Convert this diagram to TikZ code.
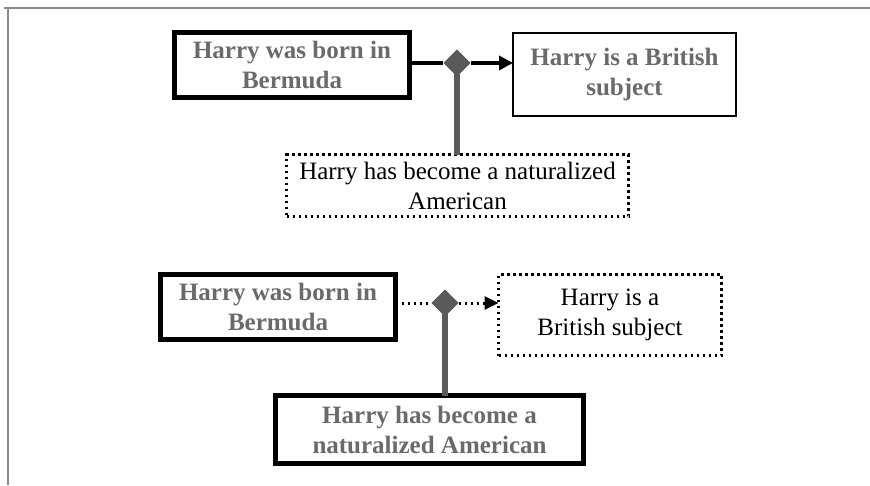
\documentclass[tikz,border=0pt]{standalone}
\usepackage{fontspec}
\setmainfont{Liberation Serif}
\usetikzlibrary{shapes.geometric,arrows.meta}
\definecolor{txtgray}{HTML}{6A6A6A}
\definecolor{linkgray}{HTML}{5A5A5A}
\definecolor{framegray}{HTML}{8A8A8A}
\tikzset{
  claim/.style={draw=black, rectangle, align=center, inner sep=0pt, outer sep=0pt,
    font=\fontsize{25}{30}\selectfont},
  heavybox/.style={claim, line width=5pt, text=txtgray, font=\fontsize{25}{30}\selectfont\bfseries},
  thinbox/.style={claim, line width=2pt, text=txtgray, font=\fontsize{25}{30}\selectfont\bfseries},
  dotbox/.style={claim, line width=3pt, dash pattern=on 2.6pt off 3.4pt, text=black},
  joint/.style={diamond, fill=linkgray, draw=none, inner sep=0pt, minimum width=27pt, minimum height=27pt},
  strongarrow/.style={line width=4.5pt, -{Triangle[length=14pt,width=14pt]}},
  weakarrow/.style={line width=3pt, dash pattern=on 2.6pt off 3.4pt, -{Triangle[length=14pt,width=13pt]}},
  support/.style={line width=5.5pt, draw=linkgray},
}
\begin{document}
\begin{tikzpicture}[x=1pt, y=-1pt]
  \useasboundingbox (0,0) rectangle (870,485);
  \fill[white] (0,0) rectangle (870,485);
  % page frame
  \draw[framegray, line width=1.8pt] (4,8) -- (870,8);
  \draw[framegray, line width=1.8pt] (8,8) -- (8,485);

  % upper argument
  \node[heavybox, minimum width=235pt, minimum height=65pt] (a1) at (292,65)
    {Harry was born in\\Bermuda};
  \node[thinbox, minimum width=223pt, minimum height=83pt] (b1) at (624.5,74.5)
    {Harry is a British\\subject};
  \node[dotbox, minimum width=342pt, minimum height=62pt] (c1) at (457.5,185.5)
    {Harry has become a naturalized\\American};
  \node[joint] (d1) at (457,63) {};
  \draw[support] (d1.center) -- (d1 |- c1.north);
  \draw[line width=4.5pt] (a1.east |- d1) -- (d1);
  \draw[strongarrow] (d1) -- (b1.west |- d1);
  \node[joint] at (d1) {};

  % lower argument
  \node[heavybox, minimum width=235pt, minimum height=65pt] (a2) at (278,307)
    {Harry was born in\\Bermuda};
  \node[dotbox, minimum width=223pt, minimum height=81pt] (b2) at (610,315)
    {Harry is a\\British subject};
  \node[heavybox, minimum width=308pt, minimum height=68pt] (c2) at (429.5,429.5)
    {Harry has become a\\naturalized American};
  \node[joint] (d2) at (445,303) {};
  \draw[support] (d2.center) -- (d2 |- c2.north);
  \draw[line width=3pt, dash pattern=on 2.6pt off 3.4pt] (a2.east |- d2) -- (d2);
  \draw[weakarrow] (d2) -- (b2.west |- d2);
  \node[joint] at (d2) {};
\end{tikzpicture}
\end{document}
